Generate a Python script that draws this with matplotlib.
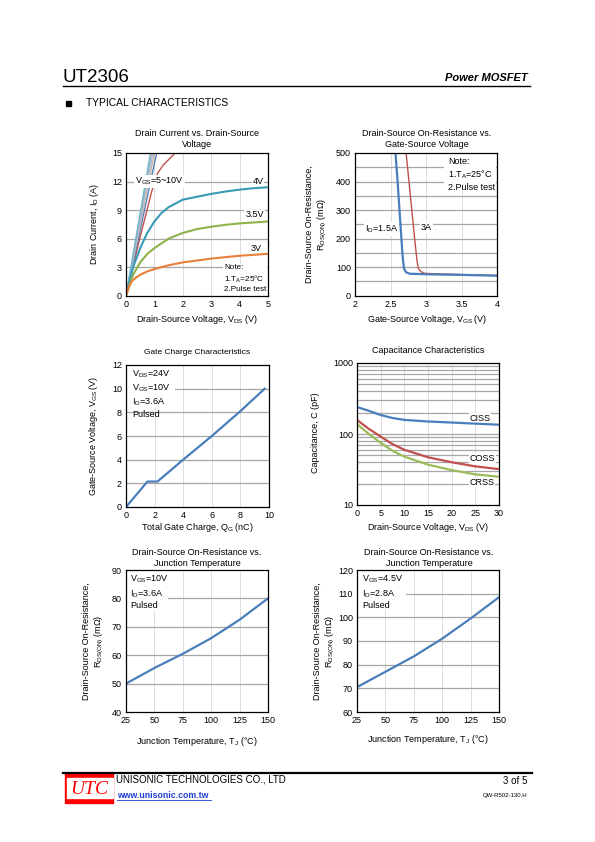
"""UT2306 datasheet page 3: typical characteristics (six small charts)."""
import matplotlib
matplotlib.use("Agg")
import matplotlib.pyplot as plt
from matplotlib.patches import Rectangle
from matplotlib.ticker import MultipleLocator, LogLocator, NullFormatter

plt.rcParams["font.family"] = ["Liberation Sans", "DejaVu Sans"]
plt.rcParams["mathtext.fontset"] = "custom"
plt.rcParams["mathtext.rm"] = "Liberation Sans"
plt.rcParams["mathtext.default"] = "regular"

W, H = 595, 842
FS = 6.5
BLUE = "#4a7ebb"
HGRID = "#a6a6a6"
VGRID = "#dcdcdc"

# --- drain current vs drain-source voltage ---
vds_4v = [0, 0.25, 0.5, 0.75, 1.0, 1.25, 1.5, 2.0, 2.5, 3.0, 3.5, 4.0, 4.5, 5.0]
id_4v = [0, 3.0, 5.0, 6.6, 7.8, 8.7, 9.3, 10.1, 10.4, 10.7, 10.95, 11.15, 11.3, 11.4]
vds_35v = [0, 0.25, 0.5, 0.75, 1.0, 1.5, 2.0, 2.5, 3.0, 3.5, 4.0, 4.5, 5.0]
id_35v = [0, 2.2, 3.5, 4.4, 5.0, 6.0, 6.6, 7.0, 7.25, 7.45, 7.6, 7.7, 7.8]
vds_3v = [0, 0.1, 0.2, 0.35, 0.5, 0.75, 1.0, 1.5, 2.0, 2.5, 3.0, 3.5, 4.0, 4.5, 5.0]
id_3v = [0, 0.9, 1.5, 1.9, 2.2, 2.55, 2.8, 3.2, 3.5, 3.7, 3.9, 4.05, 4.2, 4.3, 4.4]
# gate drive 5~10 V: near-vertical bundle
vds_hi = [
    [0, 0.5, 0.9, 1.1, 1.3, 1.5, 1.73],
    [0, 0.5, 1.08],
    [0, 0.5, 1.0],
    [0, 0.5, 0.95],
    [0, 0.5, 0.9],
    [0, 0.5, 0.86],
]
id_hi = [
    [0, 6.2, 10.9, 12.8, 13.7, 14.3, 15.0],
    [0, 6.9, 15.0],
    [0, 7.5, 15.0],
    [0, 7.9, 15.0],
    [0, 8.3, 15.0],
    [0, 8.7, 15.0],
]
hi_colors = ["#c0504d", "#4f81bd", "#d8b59a", "#9dc3e6", "#b0b0b0", "#6fb7cf"]

# --- on-resistance vs gate-source voltage ---
vgs_15a = [2.57, 2.6, 2.64, 2.67, 2.69, 2.72, 2.77, 2.9, 3.0, 3.5, 4.0]
rds_15a = [500, 400, 250, 140, 95, 82, 77, 76, 75, 73, 70]
vgs_3a = [2.72, 2.76, 2.8, 2.84, 2.87, 2.89, 2.93, 2.97, 3.0, 3.5, 4.0]
rds_3a = [500, 400, 300, 200, 130, 96, 84, 79, 78, 74, 71]

# --- gate charge ---
qg = [0, 1.5, 2.2, 4.0, 6.0, 8.0, 9.7]
vgs_qg = [0, 2.15, 2.15, 4.0, 6.0, 8.1, 10.0]

# --- capacitance ---
vds_cap = [0, 2.5, 5, 7.5, 10, 15, 20, 25, 30]
ciss = [240, 212, 185, 168, 158, 150, 145, 140, 135]
coss = [158, 118, 92, 72, 60, 47, 40, 35, 32]
crss = [138, 100, 75, 58, 48, 37, 31, 27, 25]

# --- on-resistance vs junction temperature ---
tj = [25, 50, 75, 100, 125, 150]
rds_tj_10v = [50, 55.5, 60.5, 66, 72.5, 80]
rds_tj_45v = [70.5, 77, 83.5, 91, 99.5, 108.5]

fig = plt.figure(figsize=(W / 100, H / 100), dpi=100)


def px_axes(x0, y0, x1, y1):
    return fig.add_axes([x0 / W, 1 - y1 / H, (x1 - x0) / W, (y1 - y0) / H])


def ftext(x, y, s, **kw):
    kw.setdefault("fontsize", FS)
    return fig.text(x / W, 1 - y / H, s, **kw)


def style(ax, hgrid, vgrid):
    for sp in ax.spines.values():
        sp.set_linewidth(0.9)
        sp.set_color("black")
        sp.set_zorder(6)
    ax.tick_params(length=0, labelsize=FS, pad=3)
    for v in hgrid:
        ax.axhline(v, color=HGRID, lw=0.9, zorder=1)
    for v in vgrid:
        ax.axvline(v, color=VGRID, lw=0.7, zorder=0.5)


def white_box(ax, x0, y0, x1, y1):
    ax.add_patch(Rectangle((x0, y0), x1 - x0, y1 - y0, facecolor="white",
                           edgecolor="none", zorder=2))


def label(ax, x, y, s, z=3, **kw):
    kw.setdefault("fontsize", FS)
    ax.text(x, y, s, zorder=z, linespacing=1.25,
            bbox=dict(facecolor="white", edgecolor="none", pad=0.6), **kw)


def ylab2(x, y, s):
    ftext(x, y, s, ha="center", va="center", rotation=90, linespacing=1.15)


# ---------------- header ----------------
ftext(63, 82, "UT2306", fontsize=13.5, ha="left", va="baseline",
      family=["Liberation Sans Narrow", "Liberation Sans"])
ftext(528, 81, "Power MOSFET", fontsize=8, ha="right", va="baseline",
      weight="bold", style="italic")
fig.add_artist(plt.Line2D([63 / W, 530 / W], [1 - 86 / H, 1 - 86 / H],
                          color="black", lw=1.0))
fig.add_artist(Rectangle((66 / W, 1 - 106 / H), 5 / W, 5 / H, color="black"))
ftext(86, 103.5, "TYPICAL CHARACTERISTICS", fontsize=7.4, ha="left", va="center")

# ---------------- chart 1 ----------------
ax = px_axes(126, 153, 268, 295.7)
style(ax, [3, 6, 9, 12], [1, 2, 3, 4])
ax.set_xlim(0, 5)
ax.set_ylim(0, 15)
ax.xaxis.set_major_locator(MultipleLocator(1))
ax.yaxis.set_major_locator(MultipleLocator(3))
for xs, ys, c in zip(vds_hi, id_hi, hi_colors):
    ax.plot(xs, ys, color=c, lw=1.0, zorder=4, clip_on=True)
ax.plot(vds_4v, id_4v, color="#3a9ab5", lw=1.5, zorder=4)
ax.plot(vds_35v, id_35v, color="#8db24a", lw=1.5, zorder=4)
ax.plot(vds_3v, id_3v, color="#e8803a", lw=1.5, zorder=4)
label(ax, 0.32, 12.0, "V$_{GS}$=5~10V", z=5, va="center", ha="left")
label(ax, 4.45, 12.0, "4V", va="center", ha="left")
label(ax, 4.2, 8.5, "3.5V", va="center", ha="left")
label(ax, 4.4, 5.0, "3V", va="center", ha="left")
label(ax, 3.45, 0.3, "Note:\n1.T$_A$=25°C\n2.Pulse test", va="bottom", ha="left",
      fontsize=5.9)
ftext(197, 139, "Drain Current vs. Drain-Source\nVoltage", ha="center", va="center",
      linespacing=1.15)
ftext(197, 320, "Drain-Source Voltage, V$_{DS}$ (V)", ha="center", va="center")
ftext(95, 224, "Drain Current, I$_D$ (A)", ha="center", va="center", rotation=90)

# ---------------- chart 2 ----------------
ax = px_axes(355, 153, 497, 295.7)
style(ax, [50, 100, 150, 200, 250, 300, 350, 400, 450], [2.5, 3, 3.5])
ax.set_xlim(2, 4)
ax.set_ylim(0, 500)
ax.xaxis.set_major_locator(MultipleLocator(0.5))
ax.yaxis.set_major_locator(MultipleLocator(100))
ax.xaxis.set_major_formatter(plt.FuncFormatter(lambda v, p: f"{v:g}"))
white_box(ax, 3.25, 390, 3.99, 498)
ax.plot(vgs_3a, rds_3a, color="#c0504d", lw=1.0, zorder=4)
ax.plot(vgs_15a, rds_15a, color=BLUE, lw=1.6, zorder=4)
ax.text(3.31, 485, "Note:\n1.T$_A$=25°C\n2.Pulse test", va="top", ha="left",
        fontsize=FS, zorder=3, linespacing=1.25)
label(ax, 2.14, 235, "I$_D$=1.5A", va="center", ha="left")
label(ax, 2.93, 240, "3A", va="center", ha="left")
ftext(427, 139, "Drain-Source On-Resistance vs.\nGate-Source Voltage", ha="center",
      va="center", linespacing=1.15)
ftext(427, 320, "Gate-Source Voltage, V$_{GS}$ (V)", ha="center", va="center")
ylab2(317, 224, "Drain-Source On-Resistance,\nR$_{DS(ON)}$ (mΩ)")

# ---------------- chart 3 ----------------
ax = px_axes(126, 365, 269, 507)
style(ax, [2, 4, 6, 8, 10], [2, 4, 6, 8])
ax.set_xlim(0, 10)
ax.set_ylim(0, 12)
ax.xaxis.set_major_locator(MultipleLocator(2))
ax.yaxis.set_major_locator(MultipleLocator(2))
white_box(ax, 0.05, 8.4, 3.4, 11.95)
ax.plot(qg, vgs_qg, color=BLUE, lw=1.6, zorder=4)
ax.text(0.42, 11.7, "V$_{DS}$=24V\nV$_{GS}$=10V\nI$_D$=3.6A\nPulsed", va="top",
        ha="left", fontsize=FS, zorder=3, linespacing=1.25)
ftext(197, 353, "Gate Charge Characteristics", ha="center", va="center", fontsize=6)
ftext(197, 528, "Total Gate Charge, Q$_G$ (nC)", ha="center", va="center")
ftext(93, 436, "Gate-Source Voltage, V$_{GS}$ (V)", ha="center", va="center",
      rotation=90)

# ---------------- chart 4 ----------------
ax = px_axes(357, 363, 499, 505)
ax.set_yscale("log")
minor = [v * m for m in (10, 100) for v in range(2, 10)]
style(ax, [100] + minor, [5, 10, 15, 20, 25])
ax.set_xlim(0, 30)
ax.set_ylim(10, 1000)
ax.xaxis.set_major_locator(MultipleLocator(5))
ax.yaxis.set_major_locator(LogLocator(base=10))
ax.yaxis.set_minor_formatter(NullFormatter())
ax.yaxis.set_major_formatter(plt.FuncFormatter(lambda v, p: f"{v:g}"))
ax.tick_params(which="minor", length=0)
ax.plot(vds_cap, ciss, color=BLUE, lw=1.6, zorder=4)
ax.plot(vds_cap, coss, color="#c0504d", lw=1.6, zorder=4)
ax.plot(vds_cap, crss, color="#9bbb59", lw=1.6, zorder=4)
label(ax, 23.8, 165, "CISS", va="center", ha="left")
label(ax, 23.8, 45, "COSS", va="center", ha="left")
label(ax, 23.8, 20.5, "CRSS", va="center", ha="left")
ftext(428, 351, "Capacitance Characteristics", ha="center", va="center")
ftext(428, 527, "Drain-Source Voltage, V$_{DS}$ (V)", ha="center", va="center")
ftext(316, 433, "Capacitance, C (pF)", ha="center", va="center", rotation=90)

# ---------------- chart 5 ----------------
ax = px_axes(126, 570, 268, 712)
style(ax, [50, 60, 70, 80], [50, 75, 100, 125])
ax.set_xlim(25, 150)
ax.set_ylim(40, 90)
ax.xaxis.set_major_locator(MultipleLocator(25))
ax.yaxis.set_major_locator(MultipleLocator(10))
white_box(ax, 25.5, 75.5, 62, 89.8)
ax.plot(tj, rds_tj_10v, color=BLUE, lw=1.6, zorder=4)
ax.text(28.5, 88.8, "V$_{GS}$=10V\nI$_D$=3.6A\nPulsed", va="top", ha="left",
        fontsize=FS, zorder=3, linespacing=1.25)
ftext(197, 558, "Drain-Source On-Resistance vs.\nJunction Temperature", ha="center",
      va="center", linespacing=1.15)
ftext(197, 741, "Junction Temperature, T$_J$ (°C)", ha="center", va="center")
ylab2(94, 641, "Drain-Source On-Resistance,\nR$_{DS(ON)}$ (mΩ)")

# ---------------- chart 6 ----------------
ax = px_axes(357, 570, 499, 712)
style(ax, [70, 80, 90, 100, 110], [50, 75, 100, 125])
ax.set_xlim(25, 150)
ax.set_ylim(60, 120)
ax.xaxis.set_major_locator(MultipleLocator(25))
ax.yaxis.set_major_locator(MultipleLocator(10))
white_box(ax, 25.5, 103, 68.5, 119.8)
ax.plot(tj, rds_tj_45v, color=BLUE, lw=1.6, zorder=4)
ax.text(29.4, 118.6, "V$_{GS}$=4.5V\nI$_D$=2.8A\nPulsed", va="top", ha="left",
        fontsize=FS, zorder=3, linespacing=1.25)
ftext(429, 558, "Drain-Source On-Resistance vs.\nJunction Temperature", ha="center",
      va="center", linespacing=1.15)
ftext(428, 740, "Junction Temperature, T$_J$ (°C)", ha="center", va="center")
ylab2(325, 641, "Drain-Source On-Resistance,\nR$_{DS(ON)}$ (mΩ)")

# ---------------- footer ----------------
fig.add_artist(plt.Line2D([63 / W, 532 / W], [1 - 773 / H, 1 - 773 / H],
                          color="black", lw=1.6))
fig.add_artist(Rectangle((65 / W, 1 - 803 / H), 48 / W, 30 / H, color="#ff0000"))
fig.add_artist(Rectangle((67 / W, 1 - 798 / H), 46 / W, 20 / H, color="white"))
ftext(89, 789, "UTC", fontsize=14, ha="center", va="center", color="#ff0000",
      style="italic", family=["Liberation Serif", "DejaVu Serif"])
ftext(116, 780, "UNISONIC TECHNOLOGIES CO., LTD", fontsize=7, ha="left", va="center")
ftext(117, 795, "www.unisonic.com.tw", fontsize=6.3, ha="left", va="center",
      color="#1f3bd6", weight="bold")
fig.add_artist(plt.Line2D([117 / W, 211 / W], [1 - 799.5 / H, 1 - 799.5 / H],
                          color="#1f3bd6", lw=0.6))
ftext(527, 781, "3 of 5", fontsize=7, ha="right", va="center")
ftext(527, 795, "QW-R502-130.H", fontsize=4.3, ha="right", va="center")

fig.savefig("out.png", dpi=100)
